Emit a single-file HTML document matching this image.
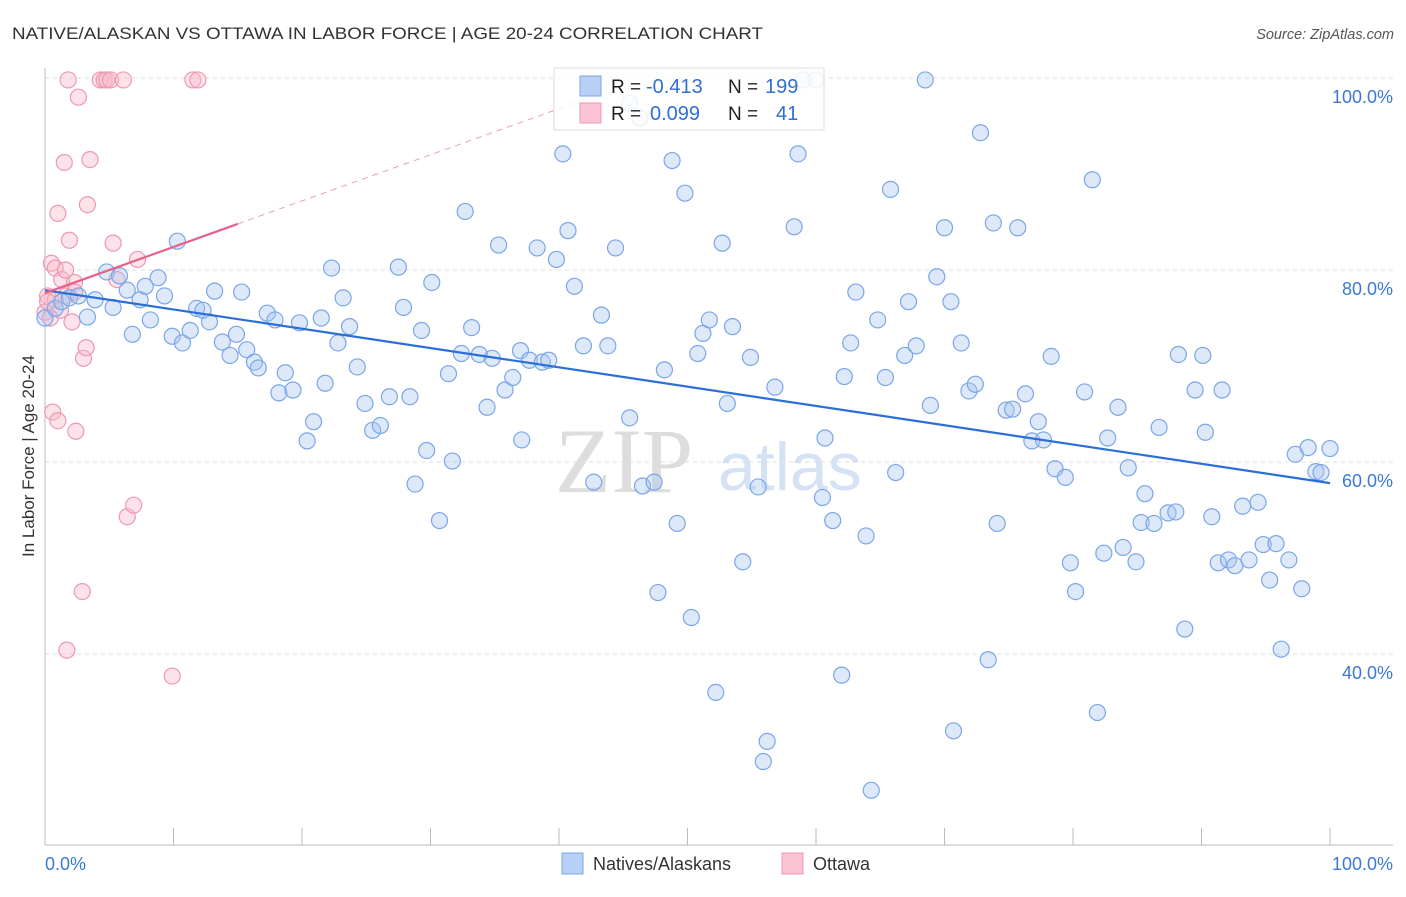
<!DOCTYPE html>
<html><head><meta charset="utf-8"><style>
body{margin:0;background:#fff;width:1406px;height:892px;overflow:hidden;font-family:"Liberation Sans",sans-serif}
</style></head><body>
<svg id="chart" width="1406" height="892" xmlns="http://www.w3.org/2000/svg" font-family="Liberation Sans, sans-serif">
<text x="12" y="39" font-size="17" fill="#333" textLength="751" lengthAdjust="spacingAndGlyphs">NATIVE/ALASKAN VS OTTAWA IN LABOR FORCE | AGE 20-24 CORRELATION CHART</text>
<text x="1394" y="39" font-size="14.5" fill="#555" text-anchor="end" font-style="italic">Source: ZipAtlas.com</text>
<g>
<text x="555" y="492" font-size="92" font-family="Liberation Serif, serif" fill="#ddd">ZIP</text>
<text x="718" y="490" font-size="68" fill="#d4e2f4">atlas</text>
</g>
<g id="grid"></g><g id="axes"></g><g id="marks"></g>
<text transform="translate(34,456) rotate(-90)" font-size="17" fill="#333" text-anchor="middle">In Labor Force | Age 20-24</text>
<g>
<rect x="554" y="68" width="270" height="62" fill="#fff" fill-opacity="0.85" stroke="#ddd"/>
<rect x="580" y="76" width="21" height="20" fill="#b8d0f5" stroke="#7aa6e8"/>
<rect x="580" y="103" width="21" height="20" fill="#f9c3d3" stroke="#ee98b2"/>
<text x="611" y="93" font-size="19" fill="#222">R =</text>
<text x="646" y="93" font-size="20" fill="#2f6fd6">-0.413</text>
<text x="728" y="93" font-size="19" fill="#222">N =</text>
<text x="765" y="93" font-size="20" fill="#2f6fd6">199</text>
<text x="611" y="120" font-size="19" fill="#222">R =</text>
<text x="650" y="120" font-size="20" fill="#2f6fd6">0.099</text>
<text x="728" y="120" font-size="19" fill="#222">N =</text>
<text x="776" y="120" font-size="20" fill="#2f6fd6">41</text>
</g>
<g>
<rect x="562" y="853" width="21" height="21" fill="#b8d0f5" stroke="#7aa6e8"/>
<text x="593" y="870" font-size="18" fill="#333">Natives/Alaskans</text>
<rect x="782" y="853" width="21" height="21" fill="#f9c3d3" stroke="#ee98b2"/>
<text x="813" y="870" font-size="18" fill="#333">Ottawa</text>
</g>
</svg>
<script>
const blueX=[0,0.8,1.3,1.9,2.6,3.3,3.9,4.8,5.3,5.8,6.4,6.8,7.4,7.8,8.2,8.8,9.3,9.9,10.3,10.7,11.3,11.8,12.3,12.8,13.2,13.8,14.4,14.9,15.3,15.7,16.3,16.6,17.3,17.9,18.2,18.7,19.3,19.8,20.4,20.9,21.5,21.8,22.3,22.8,23.2,23.7,24.3,24.9,25.5,26.1,26.8,27.5,27.9,28.4,28.8,29.3,29.7,30.1,30.7,31.4,31.7,32.4,32.7,33.2,33.8,34.4,34.8,35.3,35.8,36.4,37.0,37.1,37.7,38.3,38.7,39.2,39.8,40.3,40.7,41.2,41.9,42.7,43.3,43.8,44.4,45.5,46.5,47.4,47.7,48.2,48.8,49.2,49.8,50.3,50.8,51.2,51.7,52.2,52.7,53.1,53.5,54.3,54.9,55.5,55.9,56.2,56.8,58.3,58.6,59.0,60.0,60.5,60.7,61.3,62.0,62.2,62.7,63.1,63.9,64.3,64.8,65.4,65.8,66.2,66.9,67.2,67.8,68.5,68.9,69.4,70.0,70.5,70.7,71.3,71.9,72.4,72.8,73.4,73.8,74.1,74.8,75.3,75.7,76.3,76.8,77.3,77.7,78.3,78.6,79.4,79.8,80.2,80.9,81.5,81.9,82.4,82.7,83.5,83.9,84.3,84.9,85.6,85.3,86.3,86.7,87.4,88.0,88.2,88.7,89.5,90.1,90.3,90.8,91.3,91.6,92.1,92.6,93.2,93.7,94.4,94.8,95.3,95.8,96.2,96.8,97.3,97.8,98.3,98.9,99.3,100,45.5,46.3];
const blueY=[75.0,76.0,76.7,77.1,77.3,75.1,76.9,79.8,76.1,79.4,77.9,73.3,76.9,78.3,74.8,79.2,77.3,73.1,83.0,72.4,73.7,76.0,75.8,74.6,77.8,72.5,71.1,73.3,77.7,71.7,70.4,69.8,75.5,74.8,67.2,69.3,67.5,74.5,62.2,64.2,75.0,68.2,80.2,72.4,77.1,74.1,69.9,66.1,63.3,63.8,66.8,80.3,76.1,66.8,57.7,73.7,61.2,78.7,53.9,69.2,60.1,71.3,86.1,74.0,71.2,65.7,70.8,82.6,67.5,68.8,71.6,62.3,70.6,82.3,70.4,70.6,81.1,92.1,84.1,78.3,72.1,57.9,75.3,72.1,82.3,64.6,57.5,57.9,46.4,69.6,91.4,53.6,88.0,43.8,71.3,73.4,74.8,36.0,82.8,66.1,74.1,49.6,70.9,57.4,28.8,30.9,67.8,84.5,92.1,99.8,99.8,56.3,62.5,53.9,37.8,68.9,72.4,77.7,52.3,25.8,74.8,68.8,88.4,58.9,71.1,76.7,72.1,99.8,65.9,79.3,84.4,76.7,32.0,72.4,67.4,68.1,94.3,39.4,84.9,53.6,65.4,65.5,84.4,67.1,62.2,64.2,62.3,71.0,59.3,58.4,49.5,46.5,67.3,89.4,33.9,50.5,62.5,65.7,51.1,59.4,49.6,56.7,53.7,53.6,63.6,54.7,54.8,71.2,42.6,67.5,71.1,63.1,54.3,49.5,67.5,49.8,49.2,55.4,49.8,55.8,51.4,47.7,51.5,40.5,49.8,60.8,46.8,61.5,59.0,58.9,61.4,97.4,95.8];
const pinkX=[0,0.2,0.5,0.8,1.0,1.3,1.5,1.6,1.8,1.9,2.1,2.3,2.4,2.6,2.9,3.0,3.2,3.3,3.5,4.3,4.6,4.8,5.1,5.3,5.6,6.1,6.4,6.9,7.2,9.9,11.5,11.9,0.6,1.0,1.7,0.8,1.2,1.6,2.3,0.2,0.4];
const pinkY=[75.6,77.3,80.7,80.2,85.9,79.0,91.2,77.3,99.8,83.1,74.6,78.7,63.2,98.0,46.5,70.8,71.9,86.8,91.5,99.8,99.8,99.8,99.8,82.8,79.0,99.8,54.3,55.5,81.1,37.7,99.8,99.8,65.2,64.3,40.4,76.9,75.8,80.0,77.7,76.7,75.0];
const blueTrend=[77.9,57.8];
const pinkTrend=[77.6,84.8];
const yTicks=[100,80,60,40];
const yTickLabels=["100.0%","80.0%","60.0%","40.0%"];
const xTicks=[0,10,20,30,40,50,60,70,80,90,100];
const xTickLabels=["0.0%","100.0%"];

const NS="http://www.w3.org/2000/svg";
const sx=v=>45+v*12.85;
const sy=v=>78+(100-v)*9.6;
function mk(tag,attrs,parent){const e=document.createElementNS(NS,tag);for(const k in attrs)e.setAttribute(k,attrs[k]);parent.appendChild(e);return e;}
const grid=document.getElementById('grid'),axes=document.getElementById('axes'),marks=document.getElementById('marks');
yTicks.forEach((t,i)=>{
  const l=mk('line',{x1:45,x2:1393,y1:sy(t),y2:sy(t),stroke:'#ddd','stroke-dasharray':'4,4'},grid);
  
  
  const tx=mk('text',{x:1393,y:sy(t)+25,'font-size':18,fill:'#3b78d8','text-anchor':'end'},axes);
  tx.textContent=yTickLabels[i];
  
  
});
const xa=mk('line',{x1:45,x2:1393,y1:845,y2:845,stroke:'#bbb'},axes);


const ya=mk('line',{x1:45,x2:45,y1:68,y2:845,stroke:'#bbb'},axes);


xTicks.forEach(t=>{
  const l=mk('line',{x1:sx(t),x2:sx(t),y1:828,y2:845,stroke:'#bbb'},axes);
  
  
});
const xl0=mk('text',{x:45,y:870,'font-size':18,fill:'#3b78d8'},axes);xl0.textContent=xTickLabels[0];


const xl1=mk('text',{x:1393,y:870,'font-size':18,fill:'#3b78d8','text-anchor':'end'},axes);xl1.textContent=xTickLabels[1];


pinkX.forEach((x,i)=>{
  const c=mk('circle',{cx:sx(x),cy:sy(pinkY[i]),r:8,fill:'#f7b8cb','fill-opacity':0.4,stroke:'#ee98b2','stroke-width':1.2},marks);
  
  
});
blueX.forEach((x,i)=>{
  const c=mk('circle',{cx:sx(x),cy:sy(blueY[i]),r:8,fill:'#a9c6f0','fill-opacity':0.4,stroke:'#7aa6e8','stroke-width':1.2},marks);
  
  
});
const bt=mk('line',{x1:sx(0),y1:sy(blueTrend[0]),x2:sx(100),y2:sy(blueTrend[1]),stroke:'#2a6fd8','stroke-width':2.2},marks);


const slope=(pinkTrend[1]-pinkTrend[0])/15;
const pd=mk('line',{x1:sx(15),y1:sy(pinkTrend[1]),x2:sx(42),y2:sy(pinkTrend[0]+slope*42),stroke:'#eaa0b8','stroke-width':1,'stroke-dasharray':'6,5'},marks);


const pt=mk('line',{x1:sx(0),y1:sy(pinkTrend[0]),x2:sx(15),y2:sy(pinkTrend[1]),stroke:'#e8608a','stroke-width':2.2},marks);


</script>
</body></html>
